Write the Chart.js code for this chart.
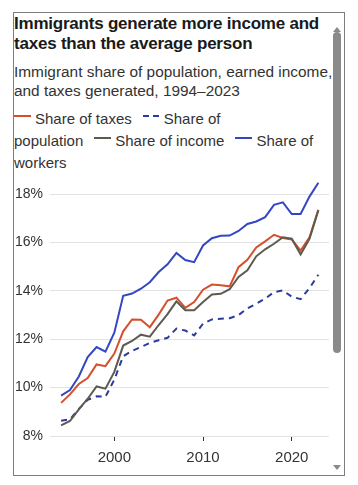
<!DOCTYPE html>
<html><head><meta charset="utf-8">
<script src="https://cdn.jsdelivr.net/npm/chart.js@4.4.1/dist/chart.umd.min.js"></script>
<style>
html,body{margin:0;padding:0;background:#fff;}
body{width:358px;height:485px;position:relative;overflow:hidden;font-family:"Liberation Sans",Arial,sans-serif;color:#333;}
#frame{position:absolute;left:13px;top:12px;width:330px;height:462px;border:1px solid #7f7f7f;overflow:hidden;background:#fff;}
#title{position:absolute;left:0;top:1px;font-weight:bold;font-size:17px;letter-spacing:-0.22px;line-height:20px;color:#1a1a1a;white-space:nowrap;}
#subtitle{position:absolute;left:0;top:50px;font-size:15.4px;line-height:18.5px;color:#333;white-space:nowrap;}
#legend{position:absolute;left:0;top:95px;font-size:15px;line-height:22px;color:#333;white-space:nowrap;}
.sw{display:inline-block;width:17px;height:2px;position:relative;top:-7px;margin-right:4px;}
.gap{display:inline-block;width:11px;}
#thumb{position:absolute;left:319px;top:19px;width:8px;height:321px;border-radius:4px;background:#8a8a8a;}
#up{position:absolute;left:319px;top:14px;width:0;height:0;border-left:4px solid transparent;border-right:4px solid transparent;border-bottom:5px solid #8a8a8a;}
#down{position:absolute;left:319px;top:452px;width:0;height:0;border-left:4px solid transparent;border-right:4px solid transparent;border-top:5px solid #8a8a8a;}
#cv{position:absolute;left:0;top:152px;}
</style></head>
<body>
<div id="frame">
  <div id="title">Immigrants generate more income and<br>taxes than the average person</div>
  <div id="subtitle">Immigrant share of population, earned income,<br>and taxes generated, 1994–2023</div>
  <div id="legend"></div>
  <canvas id="cv" width="316" height="305" style="width:316px;height:305px"></canvas>
  <div id="up"></div><div id="thumb"></div><div id="down"></div>
</div>
<script>
const years = [1994,1995,1996,1997,1998,1999,2000,2001,2002,2003,2004,2005,2006,2007,2008,2009,2010,2011,2012,2013,2014,2015,2016,2017,2018,2019,2020,2021,2022,2023];
const taxes = [9.37,9.72,10.15,10.4,10.96,10.89,11.41,12.33,12.82,12.81,12.5,13.02,13.6,13.72,13.3,13.54,14.05,14.26,14.23,14.19,14.98,15.29,15.8,16.05,16.32,16.19,16.13,15.67,16.22,17.35];
const population = [8.63,8.69,9.12,9.5,9.64,9.62,10.33,11.3,11.52,11.68,11.85,11.96,12.06,12.44,12.36,12.16,12.65,12.82,12.85,12.87,13.0,13.28,13.47,13.68,13.95,14.02,13.76,13.66,14.12,14.67];
const income = [8.44,8.62,9.1,9.54,10.05,9.96,10.65,11.74,11.93,12.19,12.11,12.59,13.04,13.57,13.2,13.2,13.54,13.85,13.88,14.07,14.58,14.85,15.43,15.72,15.95,16.22,16.16,15.51,16.15,17.34];
const workers = [9.67,9.9,10.46,11.26,11.68,11.49,12.27,13.8,13.89,14.09,14.36,14.78,15.1,15.57,15.28,15.19,15.88,16.18,16.28,16.29,16.48,16.77,16.87,17.05,17.56,17.66,17.18,17.18,17.9,18.47];
const yTicks = [8,10,12,14,16,18];
const xTicks = [2000,2010,2020];
const seriesNames = ["Share of taxes","Share of population","Share of income","Share of workers"];

const colors = {taxes:"#d4502c", population:"#2b3b9f", income:"#5f5a50", workers:"#3447c2"};

const lg = document.getElementById('legend');
function sw(c, dashed){
  const bg = dashed ? `linear-gradient(to right, ${c} 0 6px, transparent 6px 10px, ${c} 10px 16px, transparent 16px)` : c;
  return `<span class="sw" style="background:${bg}"></span>`;
}
lg.innerHTML =
  sw(colors.taxes,false) + seriesNames[0] + '<span class="gap"></span>' +
  sw(colors.population,true) + 'Share of<br>population<span class="gap"></span>' +
  sw(colors.income,false) + seriesNames[2] + '<span class="gap"></span>' +
  sw(colors.workers,false) + 'Share of<br>workers';

const pts = arr => years.map((y,i)=>({x:y,y:arr[i]}));

Chart.defaults.font.family = '"Liberation Sans", Arial, sans-serif';
Chart.defaults.color = '#333';

new Chart(document.getElementById('cv'), {
  type:'line',
  data:{datasets:[
    {label:seriesNames[3], data:pts(workers), borderColor:colors.workers, borderWidth:2},
    {label:seriesNames[2], data:pts(income), borderColor:colors.income, borderWidth:2},
    {label:seriesNames[0], data:pts(taxes), borderColor:colors.taxes, borderWidth:2},
    {label:seriesNames[1], data:pts(population), borderColor:colors.population, borderWidth:2, borderDash:[6,5]}
  ]},
  options:{
    responsive:false, animation:false, devicePixelRatio:1,
    layout:{padding:{left:0,right:1,top:5,bottom:0}},
    elements:{point:{radius:0}, line:{tension:0, borderCapStyle:'butt'}},
    plugins:{legend:{display:false}, tooltip:{enabled:false}},
    scales:{
      x:{type:'linear', min:1992.75, max:2024.2,
        afterBuildTicks: s => { s.ticks = xTicks.map(v=>({value:v})); },
        afterFit: s => { s.height = 34; s.paddingLeft = 0; s.paddingRight = 0; },
        grid:{drawOnChartArea:false, drawTicks:true, tickLength:5, color:'#333', lineWidth:1},
        border:{display:false},
        ticks:{font:{size:15}, color:'#333', padding:8, maxRotation:0, callback:v=>String(v)}
      },
      y:{min:8, max:19,
        afterBuildTicks: s => { s.ticks = yTicks.map(v=>({value:v})); },
        afterFit: s => { s.width = 36; s.paddingTop = 0; s.paddingBottom = 0; },
        grid:{color:'#e3e3e3', lineWidth:1, drawTicks:false},
        border:{display:false},
        ticks:{font:{size:14}, color:'#333', padding:7, callback:v=>v+'%'}
      }
    }
  }
});
</script>
</body></html>
